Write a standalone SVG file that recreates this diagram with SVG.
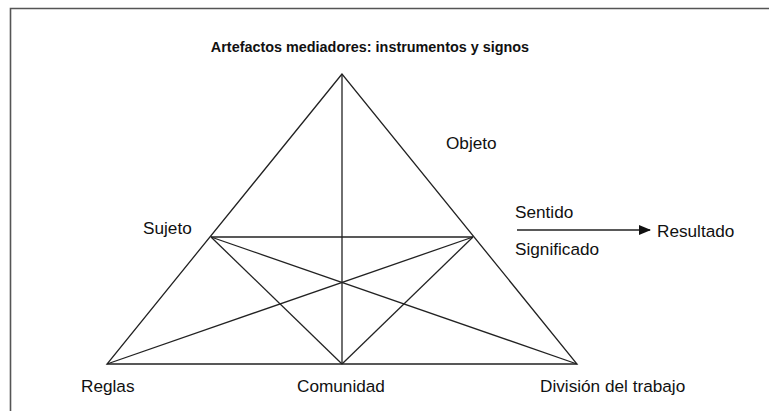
<svg xmlns="http://www.w3.org/2000/svg" width="769" height="411" viewBox="0 0 769 411">
<defs>
<style>
.lbl{font-family:"Liberation Sans",Arial,sans-serif;font-size:17.2px;fill:#111}
.ttl{font-family:"Liberation Sans",Arial,sans-serif;font-size:14.4px;font-weight:bold;fill:#111}
.ln{stroke:#222;stroke-width:1.3;fill:none}
</style>
<marker id="ah" markerWidth="12" markerHeight="10" refX="11" refY="5" orient="auto" markerUnits="userSpaceOnUse">
<path d="M0,0 L12,5 L0,10 Z" fill="#111"/>
</marker>
</defs>
<rect width="769" height="411" fill="#fff"/>
<path d="M10.5,411 V8.5 H769" stroke="#555" stroke-width="1.6" fill="none"/>
<g id="title"><text class="ttl" x="370" y="52" text-anchor="middle">Artefactos mediadores: instrumentos y signos</text></g>
<g id="connectors">
<path class="ln" d="M342,74 L107,364 L577,364 Z"/>
<line class="ln" x1="342" y1="74" x2="342" y2="364"/>
<line class="ln" x1="211" y1="237" x2="473" y2="237"/>
<line class="ln" x1="211" y1="237" x2="342" y2="364"/>
<line class="ln" x1="473" y1="237" x2="342" y2="364"/>
<line class="ln" x1="211" y1="237" x2="577" y2="364"/>
<line class="ln" x1="473" y1="237" x2="107" y2="364"/>
<line class="ln" x1="517" y1="230" x2="650" y2="230" marker-end="url(#ah)"/>
</g>
<g id="objeto"><text class="lbl" x="446" y="149">Objeto</text></g>
<g id="sujeto"><text class="lbl" x="143" y="234">Sujeto</text></g>
<g id="sentido"><text class="lbl" x="515" y="218">Sentido</text></g>
<g id="significado"><text class="lbl" x="515" y="255">Significado</text></g>
<g id="resultado"><text class="lbl" x="657" y="237">Resultado</text></g>
<g id="reglas"><text class="lbl" x="81" y="392">Reglas</text></g>
<g id="comunidad"><text class="lbl" x="297" y="392">Comunidad</text></g>
<g id="division"><text class="lbl" x="540" y="392">División del trabajo</text></g>
</svg>
